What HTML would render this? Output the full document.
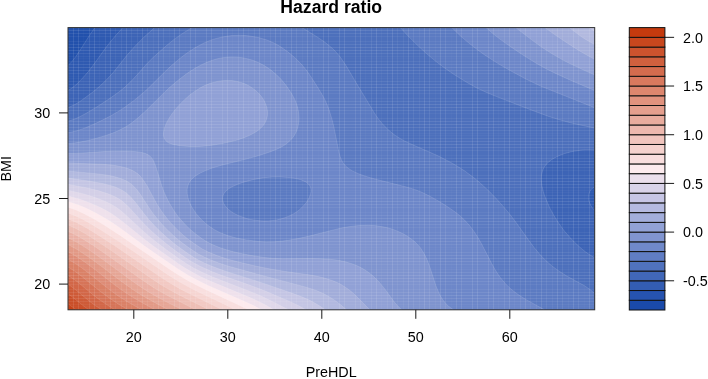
<!DOCTYPE html>
<html lang="en"><head><meta charset="utf-8"><title>Hazard ratio</title>
<style>html,body{margin:0;padding:0;background:#fff}svg{display:block}text{font-family:"Liberation Sans",Arial,Helvetica,sans-serif;fill:#000}</style></head><body>
<svg width="708" height="379" viewBox="0 0 708 379">
<rect width="708" height="379" fill="#fff"/>
<defs><clipPath id="pc"><rect x="68.0" y="27.6" width="526.7" height="282.2"/></clipPath>
</defs>
<g clip-path="url(#pc)">
<rect x="67.0" y="26.6" width="528.7" height="284.2" fill="#1d4dab"/>
<path fill="#2b57b0" stroke="#fff" stroke-opacity=".16" stroke-width=".8" d="M94,28.8 94.9,27.6 594.7,27.6 594.7,309.8 568.7,309.8 68,309.8 68,65.5 72,61.4 76,56.3 80,50.3 89.3,35.6Z"/>
<path fill="#3961b5" stroke="#fff" stroke-opacity=".16" stroke-width=".8" d="M122.1,28.5 122.9,27.6 594.7,27.6 594.7,186.8 592.7,188 591,189.7 589.7,191.7 588.7,194.6 588.4,197.7 588.6,199.7 589.2,201.7 590.7,205.3 592.7,208.3 594.7,210.5 594.7,309.8 548.6,309.8 68,309.8 68,90.5 72,88 76,84.8 80,80.9 84.8,75.6 88.3,71.6 92.9,65.6 105.9,47.6 110.1,42.2 115.6,35.6Z"/>
<path fill="#496dbb" stroke="#fff" stroke-opacity=".16" stroke-width=".8" d="M154.1,28.1 154.7,27.6 594.7,27.6 594.7,150 590.7,149.8 584.7,149.8 580.7,150.2 574.7,151.1 570.7,151.9 564.7,153.5 560.7,155 556.6,156.8 552.6,159 550.6,160.4 548.9,161.7 546.9,163.7 545.2,165.7 543.9,167.7 543,169.7 542.3,171.7 541.4,175.7 541.3,179.7 541.9,185.7 543.3,191.7 544.6,195.7 547,201.7 549.7,207.7 554,215.7 557.7,221.7 561.9,227.7 564.9,231.7 570.2,237.7 574.7,242.4 580.5,247.8 585.4,251.8 590.7,255.4 594.7,257.8 594.7,309.8 562.7,309.8 68,309.8 68,107.7 74,105 78,102.7 82,100 93.4,91.6 100.5,85.6 106.7,79.6 112.3,73.6 117.2,67.6 126.7,55.6 134.1,47.2 144.1,37Z"/>
<path fill="#5978c1" stroke="#fff" stroke-opacity=".16" stroke-width=".8" d="M190.2,28.7 192.1,27.6 302,27.6 316.3,36.4 324,41.6 330.3,46.6 334.4,50.3 339.1,55.6 342,59.6 346,65.6 358.4,86.6 366.4,99.7 373.5,111.7 376.1,115.7 379,119.7 382.3,123.7 388.1,129.7 392.4,133.3 395.7,135.7 400.4,138.7 404.4,140.9 412.5,144.7 430.5,152.5 438.5,156.1 446.5,160.2 452.5,163.4 458.5,167 464.5,170.8 474.5,178.2 480.5,183.3 488.6,190.8 496.6,199 504.3,207.7 509.3,213.7 514.6,220.5 528.6,240.1 534.3,247.8 539.3,253.8 545,259.8 551.7,265.8 558.7,270.9 566.7,276 584.6,285.8 590.4,289.8 594.7,293.6 594.7,309.8 474.5,309.8 68,309.8 68,121.2 72,120 76,118.5 80,116.6 86,113.4 95.6,107.7 104,102.3 111,97.6 119.4,91.6 124.4,87.6 130.8,81.6 136.4,75.6 148.1,62.4 153,57.6 158.1,53 166.5,45.6 174.1,39.4 182.2,33.7ZM400.4,27.6 594.7,27.6 594.7,128 593,127.7 576.7,124.2 568.7,122.3 558.7,119.5 548.6,116.4 532.6,110.5 496.6,96.6 486.6,92.5 476.5,87.8 466.5,82.2 454.5,74.8 444.5,67.9 436.1,61.6 426.5,53.6 417.8,45.6 407.7,35.6Z"/>
<path fill="#6a85c8" stroke="#fff" stroke-opacity=".16" stroke-width=".8" d="M452.5,27.6 594.7,27.6 594.6,107.7 540.6,86.1 526.6,79.4 510.6,70.8 500.6,65.1 492.6,60.1 484.6,54.9 477.2,49.6 468.5,42.8 460.5,36 451.8,27.6ZM232.2,35.5 240.2,35.3 246.2,35.6 250.2,36.1 258.3,37.5 266.3,39.8 272.3,42.2 276.3,44.2 280.3,46.6 287.5,51.6 294.3,57.2 298.9,61.6 302.3,65.3 305.9,69.6 308.3,73 312.8,79.6 320.3,91.6 323.8,97.6 325.8,101.7 329,109.7 332.1,119.7 334,127.7 338.4,149.8 339.8,155.7 341.3,159.7 342.4,161.7 343.7,163.7 345.3,165.7 348.4,168.4 352.4,170.9 358.4,173.7 363.9,175.7 370.2,177.7 377.5,179.7 406.4,187 414.5,189.4 420.5,191.7 428.5,195.5 436.5,199.9 446,205.7 454.5,211.5 459.9,215.7 464.5,220 469.7,225.7 474.2,231.7 478,237.7 481.5,243.8 491.8,263.8 495.2,269.8 497.7,273.8 500.5,277.8 505.5,283.8 508.6,286.9 511.9,289.8 516.6,293.4 520,295.8 526.6,299.9 544.5,309.8 378.4,309.8 68,309.8 68,132.7 72,132 78,130.4 84,128.4 92,125 102,120.3 110.1,116.2 117.9,111.7 124.1,107.7 134.1,100.4 144.1,92.1 148.9,87.6 166.1,70.6 172.1,65.1 178.1,59.9 183.5,55.6 188.2,52.2 196.2,47.1 204.2,42.9 210.2,40.4 214.2,39 222.2,37 228.2,36ZM263.9,177.7 254.2,179.4 245.2,181.7 238.2,184 232.2,186.7 228.2,189.1 225.3,191.7 223.9,193.7 223,195.7 222.6,197.7 222.6,199.7 223,201.7 223.8,203.7 225.1,205.7 226.7,207.7 228.8,209.7 231.4,211.7 234.6,213.7 238.7,215.7 246.2,218.4 250.2,219.4 254.2,220.1 260.3,220.8 264.3,221 268.3,220.9 272.3,220.6 276.3,220 280.3,219.1 284.8,217.7 288.3,216.4 293.8,213.7 296.9,211.7 299.5,209.7 301.7,207.7 305.4,203.7 306.9,201.7 309.2,197.7 310.6,193.7 311,191.7 311,189.7 310.7,187.7 309.8,185.7 308.3,183.9 306.3,182.3 305.3,181.7 302.3,180.4 300.3,179.6 296.3,178.6 290.3,177.6 280.3,176.9 272.3,177Z"/>
<path fill="#7c92ce" stroke="#fff" stroke-opacity=".16" stroke-width=".8" d="M486.6,27.6 594.7,27.6 594.7,90.6 592.7,89.7 572.7,81.2 556.6,73.9 546.6,69 536.6,63.5 522.6,54.8 506.1,43.6 498.6,38.1 492.9,33.6 486,27.6ZM224.2,57.5 228.2,57.1 232.2,57 238.2,57.2 242.2,57.7 246.2,58.5 252.2,60.1 258.3,62.5 264.3,65.6 270.3,69.6 276.3,74.6 281.3,79.6 286.2,85.6 291.6,93.6 294.9,99.7 297.1,105.7 298.5,111.7 299,117.7 298.8,121.7 298.3,124.8 297.7,127.7 296.3,131.7 294.3,135.4 292.7,137.7 290.3,140.4 286.5,143.7 283.6,145.7 280,147.7 275.6,149.7 270.6,151.7 258.4,155.7 244.2,159.6 222.2,165 212.2,168 206.2,170.3 200.2,173.1 195.8,175.7 193.3,177.7 191.2,179.7 189.7,181.7 188.2,184.9 187.4,187.7 187.1,189.7 187.2,193.7 188,197.7 188.6,199.7 190.1,203.7 192.2,207.7 196.2,213.7 201.5,219.7 204.2,222.2 208.2,225.5 214.2,229.6 220.2,232.7 228.2,235.8 236.2,238 246.2,239.9 258.3,241.5 266.3,241.9 274.3,241.8 282.3,241.1 288.3,240.3 298.3,238.5 308.3,236.3 334.4,229.7 342.4,227.8 350.4,226.5 358.4,225.6 368.4,225.3 374.4,225.6 378.4,226.1 384.4,227.1 388.4,228 392.4,229.2 396.4,230.7 403,233.7 406.5,235.7 410.5,238.4 414.5,241.5 416.5,243.4 420.5,247.9 424.2,253.8 427.1,259.8 430.1,267.8 435.9,285.8 438.4,291.8 440.3,295.8 442.8,299.8 446,303.8 448.5,306.2 453.4,309.8 426.5,309.8 68,309.8 68,143.5 74,143 80,142.1 88,140.5 96,138.4 105.2,135.7 112.1,133.3 118.1,130.8 124.1,127.8 128.1,125.4 132.1,122.6 138.1,117.8 146.1,110.5 164.1,92.7 169.5,87.6 178.1,80.3 186.8,73.6 192.2,70.1 196.2,67.6 202.2,64.4 206.2,62.6 212.2,60.3 216.2,59.1 220.2,58.2Z"/>
<path fill="#8f9fd5" stroke="#fff" stroke-opacity=".16" stroke-width=".8" d="M516.6,27.6 594.7,27.6 594.7,74.9 592.7,74.1 582.6,69.6 568.7,63 562.1,59.6 551.8,53.6 542.6,47.8 534,41.6 518.2,29.6 515.8,27.6ZM218.2,81.2 224.2,80.5 228.2,80.4 232.2,80.6 236.2,81.2 240.2,82.2 244.3,83.6 248.2,85.4 252.2,87.9 256.3,91 258.9,93.6 262.2,97.6 264.3,101 265.5,103.7 266.9,107.7 267.5,111.7 267.4,115.7 266.4,119.7 265.6,121.7 264.5,123.7 263.1,125.7 261.2,127.7 259,129.7 256.2,131.7 252.8,133.7 248.8,135.7 244,137.7 238.3,139.7 234.2,140.8 222.2,143.6 210.2,145.5 200.2,146.4 190.2,146.5 180.2,145.7 176.1,145 172.1,144.2 170.1,143.5 168.1,142.6 166.8,141.7 165,139.7 164,137.7 163.6,135.7 163.5,133.7 163.7,131.7 164.6,127.7 166.1,123.7 168.2,119.7 170.7,115.7 173.6,111.7 176.8,107.7 180.5,103.7 184.5,99.7 189.1,95.6 192.2,93.2 196.2,90.4 200.7,87.6 204.6,85.6 209.5,83.6 214.2,82.2ZM104,151.6 114.1,151.2 124.1,151.1 130.1,151.2 136.1,151.7 140.1,152.2 144.1,153.1 146.1,153.8 148.1,154.8 150.1,156.2 151.5,157.7 152.9,159.7 154.8,163.7 156.8,169.7 161.7,185.7 163.9,191.7 165.7,195.7 169.7,203.7 174.6,211.7 178.1,216.5 182.2,221.3 186.3,225.7 190.5,229.7 195.3,233.7 202.2,238.8 206.9,241.8 212.2,244.5 220.2,247.8 226.4,249.8 233.6,251.8 242.2,253.7 250.2,255.3 264.3,257.5 272.3,258.3 282.3,258.7 310.3,258.5 320.3,258.7 330.3,259.3 338.4,260.3 345.3,261.8 352.4,263.9 358.4,266.3 364.4,269.6 368.4,272.3 372.4,275.4 375,277.8 378.4,281.2 384.4,288.4 394.4,302.1 397.6,305.8 401.6,309.8 364.4,309.8 68,309.8 68,153.4 74,153.5 80,153.2Z"/>
<path fill="#a0acda" stroke="#fff" stroke-opacity=".16" stroke-width=".8" d="M546.6,27.6 594.7,27.6 594.7,59.3 592.7,58.3 586.7,55 578.7,50.4 566.7,42.7 554.6,34.6 545,27.6ZM70,162.9 76,163.3 102,164.2 112.1,165.1 118.1,166 124.1,167.4 128.1,168.6 132.1,170.3 136.1,172.6 138.1,174.1 140.1,176 143.1,179.7 147,185.7 154.5,199.7 157.9,205.7 163.3,213.7 169.6,221.7 177.3,229.7 183.8,235.7 188.9,239.8 194.2,243.6 202.2,248.9 208.2,252 217.6,255.8 228.2,259.3 237.7,261.8 254.4,265.8 270.3,269 287.2,271.8 308.3,274.7 316.3,276.1 324.3,278 332.4,280.6 338.4,283.1 342.4,285.3 348.4,289.3 352.4,292.5 358,297.8 369.8,309.8 366.4,309.8 68,309.8 68,162.7Z"/>
<path fill="#b1b8df" stroke="#fff" stroke-opacity=".16" stroke-width=".8" d="M570.7,27.6 594.7,27.6 594.7,44.6 592.8,43.6 584.7,38.9 578.7,34.8 569.3,27.6ZM70,171.2 98,173.9 108.1,175.3 114.1,176.6 118.1,177.7 122.1,179.1 126.1,180.8 130.1,183.2 132.1,184.7 136.1,188.8 140.1,194 149,207.7 153.2,213.7 159.7,221.7 165.2,227.7 173.6,235.7 180.1,241.3 189,247.8 198.2,253.9 204.2,257 210.2,259.7 218.2,262.8 226.2,265.5 256.3,273.9 304.3,286.7 310.3,288.5 316.3,290.5 322.3,293.1 326.3,295.1 330.3,297.4 334.4,300 340.4,304.5 346.5,309.8 344.4,309.8 68,309.8 68,170.9Z"/>
<path fill="#c3c4e4" stroke="#fff" stroke-opacity=".16" stroke-width=".8" d="M590.7,27.6 594.7,27.6 594.7,31.1 592.7,30 589.2,27.6ZM70,178.3 90,181.2 103.6,183.7 110.1,185.4 114.1,186.6 118.1,188.2 121.3,189.7 126.1,192.7 128.1,194.4 131.4,197.7 136.1,203.2 144.1,213.7 149,219.7 154.5,225.7 160.5,231.7 167.2,237.7 176.1,245.1 185.4,251.8 194.4,257.8 198.2,259.9 204.2,262.9 210.8,265.8 218.2,268.6 226.2,271.4 262.3,282.9 293.8,293.8 302.3,297 308.3,299.6 312.3,301.6 319.4,305.8 325.3,309.8 322.3,309.8 68,309.8 68,177.9Z"/>
<path fill="#d2cee7" stroke="#fff" stroke-opacity=".16" stroke-width=".8" d="M70,184.7 86,187.7 98,190.6 108.1,193.8 112.1,195.4 116.1,197.3 120.1,199.6 122.1,201.1 126.1,204.5 130.1,208.5 140.3,219.7 146,225.7 152.2,231.7 159,237.7 166.4,243.8 174.2,249.8 185.7,257.8 191.8,261.8 200.2,266.3 212.4,271.8 222.2,275.5 248.2,284.6 258.3,288.3 267.1,291.8 290.3,301.7 298.3,305.5 305.9,309.8 302.3,309.8 68,309.8 68,184.3Z"/>
<path fill="#e0d8ea" stroke="#fff" stroke-opacity=".16" stroke-width=".8" d="M70,190.7 83,193.7 94,197.1 100,199.3 105.9,201.7 110.1,203.7 114.1,205.9 118.1,208.6 124.1,213.4 141.7,229.7 148.5,235.7 155.9,241.8 166.5,249.8 177.7,257.8 186.6,263.8 194.2,268.3 202.2,272.3 212.2,276.8 250.2,291.5 260.6,295.8 273,301.8 288.5,309.8 286.3,309.8 68,309.8 68,190.2Z"/>
<path fill="#efe1ec" stroke="#fff" stroke-opacity=".16" stroke-width=".8" d="M70,196.4 80,199.2 90,202.9 96.6,205.7 102,208.3 108.1,211.6 111.7,213.7 116.1,216.7 122.1,221.2 142.6,237.7 153,245.8 178.1,263.4 184.7,267.8 190.2,271.1 200.2,276.4 210.2,281.1 250.2,297.6 258.3,301.2 264.3,304.3 274,309.8 270.3,309.8 68,309.8 68,195.9Z"/>
<path fill="#fdebee" stroke="#fff" stroke-opacity=".16" stroke-width=".8" d="M68.6,201.7 78,204.7 86,208 96,213 106.1,218.7 112.1,222.5 120.1,227.9 144.4,245.8 152.9,251.8 178.1,268.9 188.2,275.2 198.2,280.6 208.2,285.4 248.2,303 254.2,305.8 261.5,309.8 258.3,309.8 68,309.8 68,201.5Z"/>
<path fill="#f9dfdf" stroke="#fff" stroke-opacity=".16" stroke-width=".8" d="M69.3,207.7 76,210.1 84,213.7 94,219.1 104,225 120.1,235.4 144.1,252 172.1,270.9 180.1,276.1 186.2,279.7 194.2,284 204.2,289 248.2,309.6 248.7,309.8 246.2,309.8 68,309.8 68,207.3Z"/>
<path fill="#f6d4d1" stroke="#fff" stroke-opacity=".16" stroke-width=".8" d="M69.6,213.7 76,216.2 82,219 90,223.4 100,229.5 118.1,241.1 168.1,274.9 179.1,281.8 188.2,286.8 196.2,291 223.1,303.8 235.2,309.8 232.2,309.8 68,309.8 68,213.2Z"/>
<path fill="#f2c8c2" stroke="#fff" stroke-opacity=".16" stroke-width=".8" d="M69.7,219.7 76,222.3 82,225.4 88,228.8 98,235 114.7,245.8 160.1,276.8 171.2,283.8 180.1,288.9 190.2,294.1 222.4,309.8 220.2,309.8 68,309.8 68,219.1Z"/>
<path fill="#eebdb4" stroke="#fff" stroke-opacity=".16" stroke-width=".8" d="M69.6,225.7 74.2,227.7 80,230.7 86,234.1 95,239.8 110.1,249.8 152.1,278.9 162.1,285.5 169.6,289.8 178.1,294.4 192.2,301.5 209.1,309.8 206.2,309.8 68,309.8 68,225.1Z"/>
<path fill="#eab0a4" stroke="#fff" stroke-opacity=".16" stroke-width=".8" d="M68.8,231.7 74,234.1 80,237.3 86,240.9 93.6,245.8 108.2,255.8 141.9,279.8 154.1,287.9 160.7,291.8 168,295.8 195.7,309.8 192.2,309.8 68,309.8 68,231.4Z"/>
<path fill="#e6a494" stroke="#fff" stroke-opacity=".16" stroke-width=".8" d="M70,238.8 75.9,241.8 80,244.1 91.9,251.8 103.2,259.8 132.1,281 142.1,287.9 150.1,292.9 158.8,297.8 166.3,301.8 182.4,309.8 180.1,309.8 68,309.8 68,237.9Z"/>
<path fill="#e29784" stroke="#fff" stroke-opacity=".16" stroke-width=".8" d="M70,245.6 78,250 89.7,257.8 100,265.3 120.1,280.5 133.1,289.8 139.3,293.8 148.1,298.9 158.1,304.4 168.5,309.8 166.1,309.8 68,309.8 68,244.7Z"/>
<path fill="#de8a74" stroke="#fff" stroke-opacity=".16" stroke-width=".8" d="M70,252.8 78,257.4 86,262.9 95.2,269.8 115.8,285.8 126.1,293.1 136.1,299.3 154.9,309.8 152.1,309.8 68,309.8 68,251.8Z"/>
<path fill="#da7e64" stroke="#fff" stroke-opacity=".16" stroke-width=".8" d="M69,259.8 75.8,263.8 82,268.1 89.5,273.8 108.1,288.6 117.9,295.8 128.1,302.2 141.8,309.8 138.1,309.8 68,309.8 68,259.3Z"/>
<path fill="#d67154" stroke="#fff" stroke-opacity=".16" stroke-width=".8" d="M69.2,267.8 74,270.7 80,275 100,291.2 108.9,297.8 118.1,303.9 128,309.8 124.1,309.8 68,309.8 68,267.1Z"/>
<path fill="#d16444" stroke="#fff" stroke-opacity=".16" stroke-width=".8" d="M68.6,275.8 74,279.4 78,282.3 92,294 98,298.7 105.5,303.8 114.7,309.8 112.1,309.8 68,309.8 68,275.4Z"/>
<path fill="#cd5834" stroke="#fff" stroke-opacity=".16" stroke-width=".8" d="M70,285.6 76,290.1 90.1,301.8 95.6,305.8 101.8,309.8 98,309.8 68,309.8 68,284.2Z"/>
<path fill="#c94b24" stroke="#fff" stroke-opacity=".16" stroke-width=".8" d="M68.1,293.8 72,296.7 83.3,305.8 88.7,309.8 86,309.8 68,309.8 68,293.7Z"/>
<path fill="#c53f14" stroke="#fff" stroke-opacity=".16" stroke-width=".8" d="M68.1,303.8 76.1,309.8 74,309.8 68,309.8Z"/>
<rect x="68.0" y="27.6" width="526.7" height="282.2" fill="#fff" fill-opacity="0.025"/>
<path d="M83.5,27.6v282.2M185.5,27.6v282.2M318.5,27.6v282.2M451.5,27.6v282.2M584.5,27.6v282.2M68.0,58.5h526.7M68.0,76.5h526.7M68.0,249.5h526.7M68.0,267.5h526.7M68.0,306.5h526.7" stroke="#fff" stroke-opacity="0.02" stroke-width="1" fill="none"/>
<path d="M99.5,27.6v282.2M169.5,27.6v282.2M232.5,27.6v282.2M365.5,27.6v282.2M498.5,27.6v282.2M68.0,78.5h526.7M68.0,133.5h526.7M68.0,135.5h526.7M68.0,190.5h526.7M68.0,192.5h526.7M68.0,247.5h526.7" stroke="#fff" stroke-opacity="0.03" stroke-width="1" fill="none"/>
<path d="M248.5,27.6v282.2M302.5,27.6v282.2M381.5,27.6v282.2M435.5,27.6v282.2M514.5,27.6v282.2M568.5,27.6v282.2M68.0,56.5h526.7M68.0,113.5h526.7M68.0,155.5h526.7M68.0,170.5h526.7M68.0,212.5h526.7M68.0,269.5h526.7M68.0,304.5h526.7" stroke="#fff" stroke-opacity="0.04" stroke-width="1" fill="none"/>
<path d="M115.5,27.6v282.2M153.5,27.6v282.2M286.5,27.6v282.2M419.5,27.6v282.2M530.5,27.6v282.2M552.5,27.6v282.2M68.0,36.5h526.7M68.0,41.5h526.7M68.0,93.5h526.7M68.0,98.5h526.7M68.0,227.5h526.7M68.0,232.5h526.7M68.0,284.5h526.7M68.0,289.5h526.7" stroke="#fff" stroke-opacity="0.05" stroke-width="1" fill="none"/>
<path d="M131.5,27.6v282.2M137.5,27.6v282.2M264.5,27.6v282.2M270.5,27.6v282.2M397.5,27.6v282.2M403.5,27.6v282.2M536.5,27.6v282.2M68.0,61.5h526.7M68.0,118.5h526.7M68.0,150.5h526.7M68.0,175.5h526.7M68.0,207.5h526.7M68.0,264.5h526.7" stroke="#fff" stroke-opacity="0.06" stroke-width="1" fill="none"/>
<path d="M121.5,27.6v282.2M147.5,27.6v282.2M254.5,27.6v282.2M280.5,27.6v282.2M387.5,27.6v282.2M413.5,27.6v282.2M520.5,27.6v282.2M546.5,27.6v282.2M68.0,73.5h526.7M68.0,81.5h526.7M68.0,130.5h526.7M68.0,138.5h526.7M68.0,187.5h526.7M68.0,195.5h526.7M68.0,244.5h526.7M68.0,252.5h526.7M68.0,301.5h526.7" stroke="#fff" stroke-opacity="0.07" stroke-width="1" fill="none"/>
<path d="M105.5,27.6v282.2M163.5,27.6v282.2M238.5,27.6v282.2M296.5,27.6v282.2M371.5,27.6v282.2M429.5,27.6v282.2M504.5,27.6v282.2M562.5,27.6v282.2M578.5,27.6v282.2M68.0,33.5h526.7M68.0,44.5h526.7M68.0,53.5h526.7M68.0,90.5h526.7M68.0,101.5h526.7M68.0,110.5h526.7M68.0,158.5h526.7M68.0,167.5h526.7M68.0,215.5h526.7M68.0,224.5h526.7M68.0,272.5h526.7M68.0,281.5h526.7M68.0,292.5h526.7" stroke="#fff" stroke-opacity="0.08" stroke-width="1" fill="none"/>
<path d="M89.5,27.6v282.2M179.5,27.6v282.2M195.5,27.6v282.2M222.5,27.6v282.2M312.5,27.6v282.2M328.5,27.6v282.2M355.5,27.6v282.2M445.5,27.6v282.2M461.5,27.6v282.2M488.5,27.6v282.2M68.0,64.5h526.7M68.0,70.5h526.7M68.0,84.5h526.7M68.0,121.5h526.7M68.0,127.5h526.7M68.0,141.5h526.7M68.0,147.5h526.7M68.0,178.5h526.7M68.0,184.5h526.7M68.0,198.5h526.7M68.0,204.5h526.7M68.0,235.5h526.7M68.0,241.5h526.7M68.0,255.5h526.7M68.0,261.5h526.7M68.0,298.5h526.7" stroke="#fff" stroke-opacity="0.09" stroke-width="1" fill="none"/>
<path d="M73.5,27.6v282.2M78.5,27.6v282.2M190.5,27.6v282.2M206.5,27.6v282.2M211.5,27.6v282.2M323.5,27.6v282.2M339.5,27.6v282.2M344.5,27.6v282.2M360.5,27.6v282.2M456.5,27.6v282.2M472.5,27.6v282.2M477.5,27.6v282.2M493.5,27.6v282.2M589.5,27.6v282.2M68.0,30.5h526.7M68.0,47.5h526.7M68.0,50.5h526.7M68.0,67.5h526.7M68.0,87.5h526.7M68.0,104.5h526.7M68.0,107.5h526.7M68.0,124.5h526.7M68.0,144.5h526.7M68.0,161.5h526.7M68.0,164.5h526.7M68.0,181.5h526.7M68.0,201.5h526.7M68.0,218.5h526.7M68.0,221.5h526.7M68.0,238.5h526.7M68.0,258.5h526.7M68.0,275.5h526.7M68.0,278.5h526.7M68.0,295.5h526.7" stroke="#fff" stroke-opacity="0.10" stroke-width="1" fill="none"/>
<path d="M94.5,27.6v282.2M110.5,27.6v282.2M126.5,27.6v282.2M142.5,27.6v282.2M158.5,27.6v282.2M174.5,27.6v282.2M227.5,27.6v282.2M243.5,27.6v282.2M259.5,27.6v282.2M275.5,27.6v282.2M291.5,27.6v282.2M307.5,27.6v282.2M376.5,27.6v282.2M392.5,27.6v282.2M408.5,27.6v282.2M424.5,27.6v282.2M440.5,27.6v282.2M509.5,27.6v282.2M525.5,27.6v282.2M541.5,27.6v282.2M557.5,27.6v282.2M573.5,27.6v282.2" stroke="#fff" stroke-opacity="0.11" stroke-width="1" fill="none"/>
</g>
<rect x="68.0" y="27.6" width="526.7" height="282.2" fill="none" stroke="#333" stroke-width="1"/>
<text x="133.8" y="342" font-size="14.35" text-anchor="middle">20</text>
<text x="227.8" y="342" font-size="14.35" text-anchor="middle">30</text>
<text x="321.8" y="342" font-size="14.35" text-anchor="middle">40</text>
<text x="415.8" y="342" font-size="14.35" text-anchor="middle">50</text>
<text x="509.8" y="342" font-size="14.35" text-anchor="middle">60</text>
<text x="50.3" y="118.0" font-size="14.35" text-anchor="end">30</text>
<text x="50.3" y="203.6" font-size="14.35" text-anchor="end">25</text>
<text x="50.3" y="289.2" font-size="14.35" text-anchor="end">20</text>
<rect x="629.3" y="300.26" width="35.6" height="9.74" fill="#1a4aaa" stroke="#111" stroke-width="1"/>
<rect x="629.3" y="290.52" width="35.6" height="9.74" fill="#2653af" stroke="#111" stroke-width="1"/>
<rect x="629.3" y="280.79" width="35.6" height="9.74" fill="#335db3" stroke="#111" stroke-width="1"/>
<rect x="629.3" y="271.05" width="35.6" height="9.74" fill="#4167b8" stroke="#111" stroke-width="1"/>
<rect x="629.3" y="261.31" width="35.6" height="9.74" fill="#5072be" stroke="#111" stroke-width="1"/>
<rect x="629.3" y="251.57" width="35.6" height="9.74" fill="#607dc4" stroke="#111" stroke-width="1"/>
<rect x="629.3" y="241.83" width="35.6" height="9.74" fill="#7089ca" stroke="#111" stroke-width="1"/>
<rect x="629.3" y="232.10" width="35.6" height="9.74" fill="#8195d0" stroke="#111" stroke-width="1"/>
<rect x="629.3" y="222.36" width="35.6" height="9.74" fill="#92a2d6" stroke="#111" stroke-width="1"/>
<rect x="629.3" y="212.62" width="35.6" height="9.74" fill="#a3aedb" stroke="#111" stroke-width="1"/>
<rect x="629.3" y="202.88" width="35.6" height="9.74" fill="#b5bae0" stroke="#111" stroke-width="1"/>
<rect x="629.3" y="193.14" width="35.6" height="9.74" fill="#c7c6e5" stroke="#111" stroke-width="1"/>
<rect x="629.3" y="183.41" width="35.6" height="9.74" fill="#d9d3e9" stroke="#111" stroke-width="1"/>
<rect x="629.3" y="173.67" width="35.6" height="9.74" fill="#ebdfec" stroke="#111" stroke-width="1"/>
<rect x="629.3" y="163.93" width="35.6" height="9.74" fill="#fdebee" stroke="#111" stroke-width="1"/>
<rect x="629.3" y="154.19" width="35.6" height="9.74" fill="#f9dede" stroke="#111" stroke-width="1"/>
<rect x="629.3" y="144.46" width="35.6" height="9.74" fill="#f5d2ce" stroke="#111" stroke-width="1"/>
<rect x="629.3" y="134.72" width="35.6" height="9.74" fill="#f1c5be" stroke="#111" stroke-width="1"/>
<rect x="629.3" y="124.98" width="35.6" height="9.74" fill="#edb8ae" stroke="#111" stroke-width="1"/>
<rect x="629.3" y="115.24" width="35.6" height="9.74" fill="#e9ac9e" stroke="#111" stroke-width="1"/>
<rect x="629.3" y="105.50" width="35.6" height="9.74" fill="#e59f8e" stroke="#111" stroke-width="1"/>
<rect x="629.3" y="95.77" width="35.6" height="9.74" fill="#e1927e" stroke="#111" stroke-width="1"/>
<rect x="629.3" y="86.03" width="35.6" height="9.74" fill="#dd866e" stroke="#111" stroke-width="1"/>
<rect x="629.3" y="76.29" width="35.6" height="9.74" fill="#d9795e" stroke="#111" stroke-width="1"/>
<rect x="629.3" y="66.55" width="35.6" height="9.74" fill="#d46c4e" stroke="#111" stroke-width="1"/>
<rect x="629.3" y="56.81" width="35.6" height="9.74" fill="#d0603e" stroke="#111" stroke-width="1"/>
<rect x="629.3" y="47.08" width="35.6" height="9.74" fill="#cc532e" stroke="#111" stroke-width="1"/>
<rect x="629.3" y="37.34" width="35.6" height="9.74" fill="#c8471e" stroke="#111" stroke-width="1"/>
<rect x="629.3" y="27.60" width="35.6" height="9.74" fill="#c43a0e" stroke="#111" stroke-width="1"/>
<text x="683" y="42.6" font-size="14.35">2.0</text>
<text x="683" y="91.3" font-size="14.35">1.5</text>
<text x="683" y="140.0" font-size="14.35">1.0</text>
<text x="683" y="188.7" font-size="14.35">0.5</text>
<text x="683" y="237.4" font-size="14.35">0.0</text>
<text x="683" y="286.1" font-size="14.35">-0.5</text>
<path d="M133.8,309.8v9M227.8,309.8v9M321.8,309.8v9M415.8,309.8v9M509.8,309.8v9M68.0,112.9h-9M68.0,198.5h-9M68.0,284.1h-9M664.9,37.34h9.2M664.9,86.03h9.2M664.9,134.72h9.2M664.9,183.41h9.2M664.9,232.10h9.2M664.9,280.79h9.2" stroke="#1a1a1a" stroke-width="1" fill="none"/>
<text x="331.2" y="13.1" font-size="17.6" font-weight="bold" text-anchor="middle">Hazard ratio</text>
<text x="331.2" y="377" font-size="14.35" text-anchor="middle">PreHDL</text>
<text transform="translate(11.4,168.7) rotate(-90)" font-size="14.35" text-anchor="middle">BMI</text>
</svg></body></html>
